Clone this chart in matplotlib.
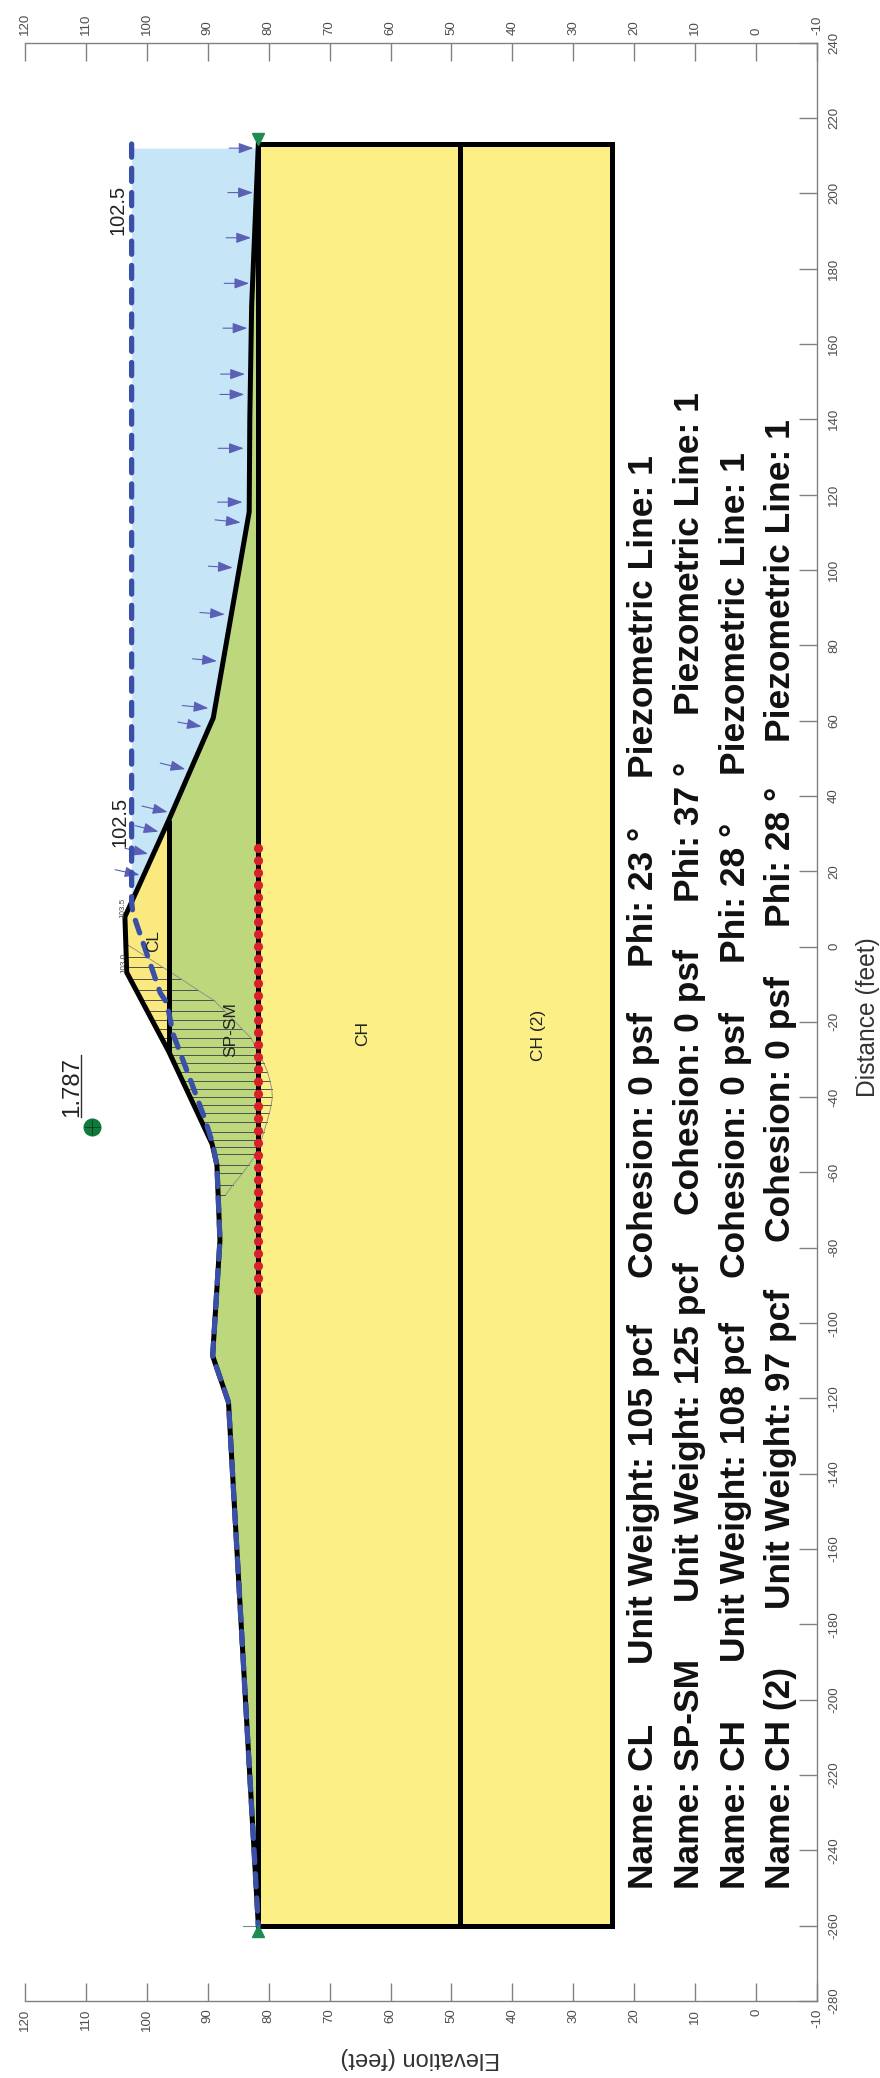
import matplotlib
matplotlib.use("Agg")
import matplotlib.pyplot as plt

plt.rcParams['font.family'] = ['Liberation Sans', 'DejaVu Sans']
plt.rcParams['axes.unicode_minus'] = False

W, H = 880, 2078

# ---- data (feet) ----
surface_d = [213.1, 170, 140, 115.4, 60.7, 33.6, 7.9, -6.9, -27.9, -52.4, -58, -78, -108.7, -121, -260]
surface_e = [81.7, 82.8, 83.1, 83.2, 89.1, 96.4, 103.6, 103.3, 96.4, 89.3, 88.5, 88.0, 89.2, 86.6, 81.7]
left_end, right_end = -260, 213.1
base_e, mid_e, bottom_e = 81.7, 48.6, 23.6

cl_d = [33.6, 7.9, -6.9, -27.9]
cl_e = [96.4, 103.6, 103.3, 96.4]

water_d = [212, 170, 140, 115.4, 60.7, 33.6, 11.8]
water_e = [81.7, 82.8, 83.1, 83.2, 89.1, 96.4, 102.5]
water_level = 102.5

piezo_d = [213.1, 11.8, 8.9, -12.3, -15, -23.2, -35.2, -46.1, -52.4, -58, -78, -108.7, -121, -260]
piezo_e = [102.5, 102.5, 102.3, 97.8, 96.7, 95.7, 92.9, 90.4, 89.2, 88.5, 88.0, 89.2, 86.6, 81.7]

slip_d = [26.1, -91.8]
slip_e = [81.7, 81.7]

slice_d = [0.4, -2.8, -5.5, -8.6, -11.6, -14.3, -17, -19.6, -22, -24.3, -26.6, -28.8, -31, -33.2,
           -35.6, -37.8, -40, -42.2, -44.3, -46.5, -49.3, -51.3, -53.2, -55.2, -58, -60.2, -63.4, -66]
slice_top = [103.4, 103.3, 103.3, 102.7, 101.7, 100.8, 100, 99.1, 98.3, 97.6, 96.8, 96.1, 95.5, 94.9,
             94.2, 93.5, 92.9, 92.3, 91.7, 91, 90.2, 89.6, 89.2, 88.9, 88.5, 88.4, 88.4, 88.3]
slice_env = [103.1, 100, 97.4, 94.4, 91.6, 89, 87.3, 85.7, 84.3, 82.9, 82.2, 81.5, 80.8, 80.2,
             79.8, 79.5, 79.4, 79.6, 79.9, 80.3, 80.8, 81.2, 81.7, 82.1, 83.3, 84.3, 85.9, 87.1]

arrow_tip_d = [212, 200.2, 188.2, 176.1, 164.2, 152, 146.6, 132.3, 118, 112.6, 100.6, 88.2, 75.8, 63.3,
               58.4, 47.1, 35.7, 30.5, 24.6, 19]
arrow_tip_e = [82.5, 82.6, 82.9, 83.2, 83.5, 83.9, 84, 84.1, 84.3, 84.6, 85.9, 87.2, 88.5, 89.9,
               91, 93.7, 96.6, 98.1, 99.8, 101.2]
arrow_tail_d = [212, 200.2, 188.2, 176.1, 164.2, 152, 146.6, 132.3, 118, 113.3, 101, 88.7, 76.4, 64,
                59.6, 48.7, 37.3, 32.1, 26.1, 20.4]
arrow_tail_e = [86.5, 86.7, 87, 87.3, 87.5, 87.9, 88, 88.3, 88.4, 88.8, 89.9, 91.3, 92.5, 94.2,
                94.9, 97.8, 100.8, 101.9, 103.6, 105.2]

elev_ticks = [120, 110, 100, 90, 80, 70, 60, 50, 40, 30, 20, 10, 0, -10]
dist_ticks = [240, 220, 200, 180, 160, 140, 120, 100, 80, 60, 40, 20, 0, -20, -40, -60, -80,
              -100, -120, -140, -160, -180, -200, -220, -240, -260, -280]

center_e, center_d = 109.0, -47.8
fos_label = '1.787'

names = ['Name: CL', 'Name: SP-SM', 'Name: CH', 'Name: CH (2)']
weights = ['Unit Weight: 105 pcf', 'Unit Weight: 125 pcf', 'Unit Weight: 108 pcf', 'Unit Weight: 97 pcf']
cohesions = ['Cohesion: 0 psf'] * 4
phis = ['Phi: 23 °', 'Phi: 37 °', 'Phi: 28 °', 'Phi: 28 °']
piezos = ['Piezometric Line: 1'] * 4

# ---- layout (pixels) ----
row_base_x = [653, 699, 745, 790]
name_y = [1889, 1889, 1889, 1889]
weight_y = [1664, 1602, 1662, 1609]
cohesion_y = [1278, 1215, 1278, 1242]
phi_y = [967, 902, 963, 927]
piezo_y = [778, 715, 775, 742]

CH_C, SP_C, CL_C, WATER_C = '#FBEF85', '#BDD77C', '#FAE97F', '#C6E6F8'
BLUE, ARROW_C, RED, GREEN = '#3A50A8', '#5B5FB5', '#D9202A', '#0E7A3C'
AXIS_C, TEXT_C = '#808080', '#4D4D4D'

fig = plt.figure(figsize=(W / 100, H / 100), dpi=100, facecolor='white')
ax = fig.add_axes([25 / W, 1 - 2001 / H, (817 - 25) / W, (2001 - 42.7) / H])
ax.set_xlim(120, -10)
ax.set_ylim(-280, 240)


def put(x, y, s, size, rot=90, color='black', weight='normal'):
    fig.text(x / W, 1 - y / H, s, fontsize=size, rotation=rot, rotation_mode='anchor',
             ha='left', va='baseline', color=color, fontweight=weight)


# fills
ax.fill([base_e, bottom_e, bottom_e, base_e], [left_end, left_end, right_end, right_end], color=CH_C, lw=0, zorder=1)
ax.fill(surface_e + [base_e], surface_d + [right_end], color=SP_C, lw=0, zorder=1)
ax.fill(cl_e, cl_d, color=CL_C, lw=0, zorder=1.5)
ax.fill_betweenx(water_d, water_e, water_level, color=WATER_C, lw=0, zorder=1)

# slice force lines and envelope
for d, t, e in zip(slice_d, slice_top, slice_env):
    ax.plot([t, e], [d, d], color='#505050', lw=0.7, zorder=2)
ax.plot(slice_env, slice_d, color='#8A8A8A', lw=0.6, zorder=2)

# region boundaries
LW = 3.6
ax.plot([base_e, base_e], [left_end, right_end], color='black', lw=LW, zorder=3, solid_capstyle='butt')
ax.plot([mid_e, mid_e], [left_end, right_end], color='black', lw=LW, zorder=3, solid_capstyle='butt')
ax.plot([cl_e[0], cl_e[-1]], [cl_d[0], cl_d[-1]], color='black', lw=LW, zorder=3, solid_capstyle='butt')
ax.plot([base_e, bottom_e, bottom_e, base_e], [right_end, right_end, left_end, left_end],
        color='black', lw=LW, zorder=3, solid_joinstyle='miter')
ax.plot(surface_e, surface_d, color='black', lw=LW, zorder=3.2, solid_joinstyle='miter')

# critical surface
ax.plot(slip_e, slip_d, color=RED, lw=6.6, linestyle=(0, (0.01, 1.33)), dash_capstyle='round', zorder=4)

# water arrows
for td, te, bd, be in zip(arrow_tip_d, arrow_tip_e, arrow_tail_d, arrow_tail_e):
    ax.annotate('', xy=(te, td), xytext=(be, bd), zorder=4,
                arrowprops=dict(arrowstyle='-|>,head_length=0.9,head_width=0.32', mutation_scale=10,
                                lw=0.8, color=ARROW_C, shrinkA=0, shrinkB=0))

# piezometric line
ax.plot(piezo_e, piezo_d, color=BLUE, lw=3.8, linestyle=(0, (2.5, 2.1)), dash_capstyle='round',
        dash_joinstyle='round', zorder=5)

# end markers and slip centre
ax.plot([base_e], [214.3], marker='v', ms=9, color='#1E8C50', zorder=6)
ax.plot([base_e], [-261.3], marker='^', ms=9, color='#1E8C50', zorder=6)
ax.plot([84.2, base_e], [-260, -260], color='#6F8F78', lw=0.8, zorder=2.5)
ax.plot([center_e], [center_d], marker='o', ms=12, color=GREEN, zorder=6)
ax.plot([center_e], [center_d], marker='+', ms=11, mew=0.6, color='#0A3D20', zorder=7)
ax.plot([110.8, 110.8], [-45.3, -28.8], color='#333333', lw=1.0, zorder=6)

# axes
for s in ('left',):
    ax.spines[s].set_visible(False)
for s in ('top', 'right', 'bottom'):
    ax.spines[s].set_color(AXIS_C)
    ax.spines[s].set_linewidth(1.0)
ax.set_xticks(elev_ticks)
ax.set_xticklabels([str(v) for v in elev_ticks])
ax.set_yticks(dist_ticks)
ax.set_yticklabels([str(v) for v in dist_ticks])
ax.tick_params(axis='x', top=True, bottom=True, labeltop=True, labelbottom=True, direction='in',
               length=13, width=1.0, color=AXIS_C, labelcolor=TEXT_C, labelsize=9.5, labelrotation=90, pad=5.5)
ax.tick_params(axis='y', left=False, right=True, labelleft=False, labelright=True, direction='in',
               length=13, width=1.0, color=AXIS_C, labelcolor=TEXT_C, labelsize=9.5, labelrotation=90, pad=8)
for lab in ax.get_yticklabels():
    lab.set_va('center')

ax.set_xlabel('Elevation (feet)', fontsize=17, color='#333333')
ax.xaxis.label.set(rotation=180, rotation_mode='anchor', ha='left', va='baseline')
ax.xaxis.set_label_coords((500 - 25) / 792, (2001 - 2052) / (2001 - 42.7))
ax.yaxis.set_label_position('right')
ax.set_ylabel('Distance (feet)', fontsize=17.7, color='#333333')
ax.yaxis.label.set(rotation=90, rotation_mode='anchor', ha='left', va='baseline')
ax.yaxis.set_label_coords((875 - 25) / 792, (2001 - 1097) / (2001 - 42.7))

# annotations
put(123, 235, '102.5', 14.5, color='#222222')
put(125, 847, '102.5', 14.5, color='#222222')
put(124, 918, '103.5', 5.8, color='#444444')
put(125, 973, '103.0', 5.8, color='#444444')
put(78, 1117, fos_label, 17.3, color='#222222')
put(158, 952, 'CL', 12.4, color='#222222')
put(235, 1057, 'SP-SM', 12.5, color='#222222')
put(367, 1046, 'CH', 12.5, color='#222222')
put(543, 1061, 'CH (2)', 12.5, color='#222222')

# material table
for i, x in enumerate(row_base_x):
    put(x, name_y[i], names[i], 25.5, weight='bold', color='#111111')
    put(x, weight_y[i], weights[i], 25.5, weight='bold', color='#111111')
    put(x, cohesion_y[i], cohesions[i], 25.5, weight='bold', color='#111111')
    put(x, phi_y[i], phis[i], 25.5, weight='bold', color='#111111')
    put(x, piezo_y[i], piezos[i], 25.5, weight='bold', color='#111111')

fig.savefig('out.png', dpi=100, facecolor='white')
